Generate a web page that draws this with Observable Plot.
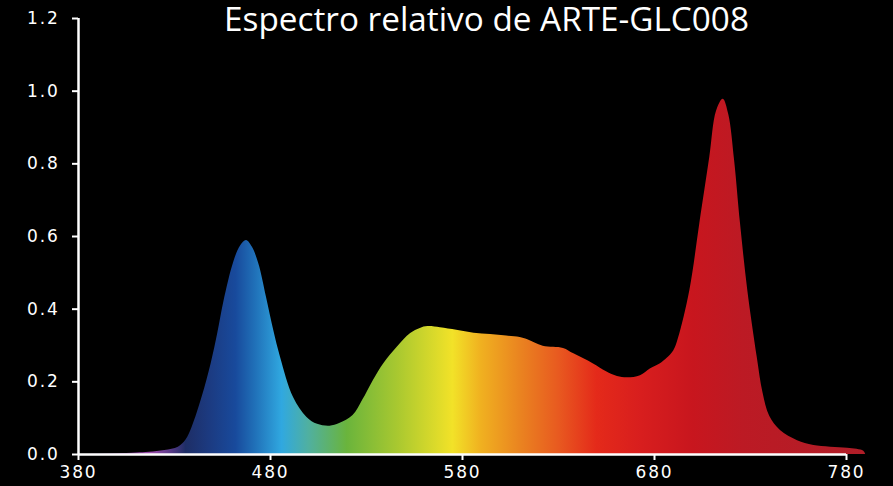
<!DOCTYPE html>
<html>
<head>
<meta charset="utf-8">
<script src="https://cdn.jsdelivr.net/npm/d3@7"></script>
<script src="https://cdn.jsdelivr.net/npm/@observablehq/plot@0.6"></script>
<style>
  html, body { margin: 0; padding: 0; background: #000; }
  #chart svg { display: block; }
  #chart [aria-label$="tick label"] text { letter-spacing: 1.8px; }
</style>
</head>
<body>
<div id="chart"></div>
<script>
const title = "Espectro relativo de ARTE-GLC008";
const wavelengths = [380, 390, 400, 410, 417, 425, 432, 436, 439.2, 444.4, 449.1, 452.6, 455.7, 460.9, 464.4, 467.5, 470.5, 473.9, 477.9, 481.7, 485.2, 492, 499, 504.5, 511, 516, 523, 528, 533.6, 539, 546, 553, 558, 562, 568.5, 577, 586, 594.6, 603, 610, 614, 622, 632.6, 638, 648, 655, 660.7, 666, 672.7, 678, 683.1, 686.6, 690, 692.5, 698.4, 703.6, 708.8, 712.3, 715.8, 718.7, 721.7, 724.8, 728.6, 733.5, 736.5, 740, 745.6, 754.5, 763, 780.5, 789, 790];
const intensities = [0, 0.001, 0.002, 0.004, 0.006, 0.011, 0.02, 0.04, 0.075, 0.158, 0.25, 0.335, 0.42, 0.53, 0.574, 0.589, 0.571, 0.525, 0.433, 0.341, 0.268, 0.157, 0.102, 0.083, 0.078, 0.085, 0.107, 0.149, 0.204, 0.25, 0.295, 0.333, 0.347, 0.352, 0.349, 0.342, 0.334, 0.33, 0.326, 0.322, 0.316, 0.298, 0.292, 0.277, 0.25, 0.228, 0.215, 0.211, 0.217, 0.236, 0.25, 0.265, 0.285, 0.32, 0.451, 0.635, 0.818, 0.945, 0.978, 0.935, 0.81, 0.635, 0.451, 0.268, 0.17, 0.105, 0.066, 0.038, 0.025, 0.017, 0.009, 0];
const xTicks = [380, 480, 580, 680, 780];
const yTicks = [0, 0.2, 0.4, 0.6, 0.8, 1.0, 1.2];
const gradientNm = [380, 392, 408, 418, 428, 436, 448, 462, 472, 486, 500, 520, 546, 575, 590, 610, 630, 650, 673, 700, 726, 790];
const gradientColors = ["#1a0a24", "#3c1858", "#7a3590", "#9a4aaa", "#5a3a88", "#1e2e66", "#1c3a80", "#184a9c", "#2070b8", "#30a8e0", "#50b0a0", "#6ab43c", "#a8c830", "#f2e228", "#f0b020", "#ea8420", "#e85a20", "#e42a1a", "#d81e1e", "#c8161e", "#bc1a24", "#b01e28"];

const data = wavelengths.map((w, i) => ({w, v: intensities[i]}));

function gradientDefs(index, scales) {
  const x = scales.x;
  const x1 = x(gradientNm[0]), x2 = x(gradientNm[gradientNm.length - 1]);
  const defs = d3.create("svg:defs");
  const g = defs.append("linearGradient")
    .attr("id", "specGrad")
    .attr("gradientUnits", "userSpaceOnUse")
    .attr("x1", x1).attr("x2", x2).attr("y1", 0).attr("y2", 0);
  gradientNm.forEach((nm, i) => {
    g.append("stop").attr("offset", (x(nm) - x1) / (x2 - x1)).attr("stop-color", gradientColors[i]);
  });
  return defs.node();
}

const chart = Plot.plot({
  width: 893,
  height: 486,
  marginLeft: 78,
  marginRight: 47,
  marginTop: 18,
  marginBottom: 32,
  style: {background: "#000", color: "#fff", fontFamily: "'DejaVu Sans', sans-serif", overflow: "visible"},
  x: {domain: [380, 780]},
  y: {domain: [0, 1.2]},
  marks: [
    gradientDefs,
    Plot.areaY(data, {x: "w", y: "v", fill: "url(#specGrad)", curve: "catmull-rom"}),
    Plot.axisX({ticks: xTicks, tickSize: 6, tickPadding: 5, strokeWidth: 2, fontSize: 17, fill: "#fff", stroke: "#fff", label: null}),
    Plot.axisY({ticks: yTicks, tickSize: 6, tickPadding: 13, strokeWidth: 2, fontSize: 17, fill: "#fff", stroke: "#fff", tickFormat: d3.format(".1f"), label: null}),
    Plot.ruleX([380], {stroke: "#fff", strokeWidth: 2.5}),
    Plot.ruleY([0], {stroke: "#fff", strokeWidth: 2.5}),
    Plot.text([title], {frameAnchor: "top", lineAnchor: "middle", dx: 24, dy: 1.5, fontSize: 33.3, fill: "#fff", fontFamily: "'Open Sans', sans-serif", fontWeight: 400})
  ]
});
document.getElementById("chart").appendChild(chart);
</script>
</body>
</html>
